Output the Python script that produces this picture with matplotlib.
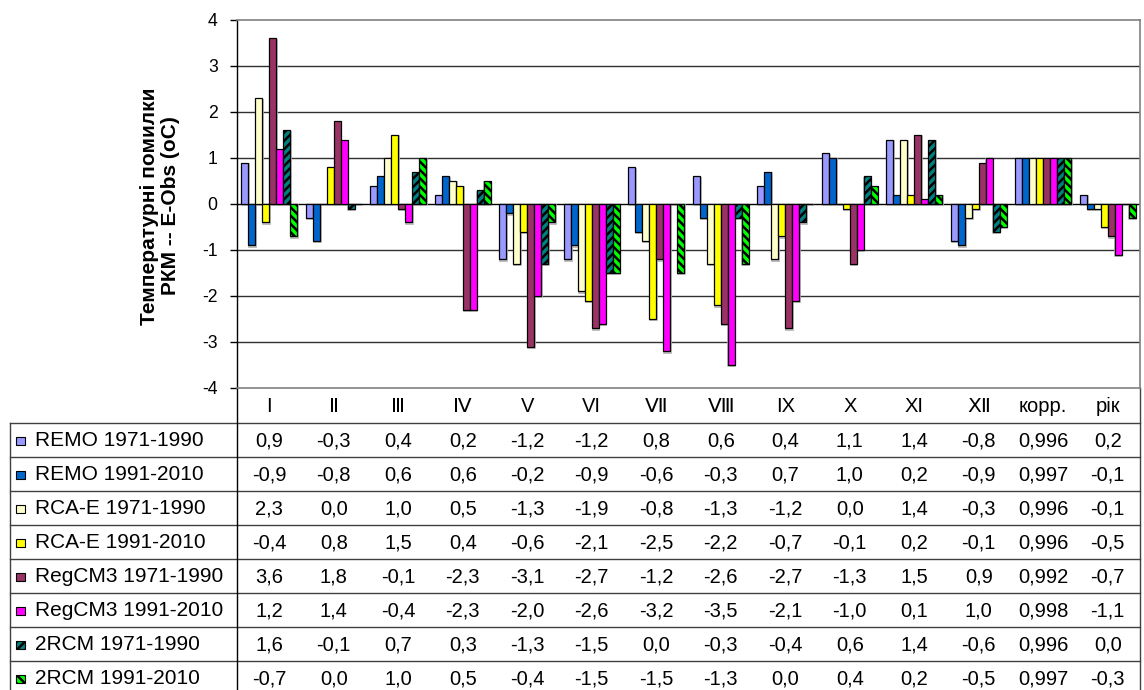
import matplotlib
matplotlib.use("Agg")
import matplotlib.pyplot as plt
from matplotlib.patches import Rectangle

plt.rcParams['font.family'] = ['Liberation Sans', 'DejaVu Sans']
plt.rcParams['hatch.linewidth'] = 1.8

# ---- дані ----
categories = ['I', 'Ⅱ', 'Ⅲ', 'Ⅳ', 'V', 'VI', 'Ⅶ', 'Ⅷ', 'IX', 'X', 'XI', 'Ⅻ', 'корр.', 'рік']

series_names = ['REMO 1971-1990', 'REMO 1991-2010',
                'RCA-E 1971-1990', 'RCA-E 1991-2010',
                'RegCM3 1971-1990', 'RegCM3 1991-2010',
                '2RCM 1971-1990', '2RCM 1991-2010']

remo_1971 = [0.9, -0.3, 0.4, 0.2, -1.2, -1.2, 0.8, 0.6, 0.4, 1.1, 1.4, -0.8, 0.996, 0.2]
remo_1991 = [-0.9, -0.8, 0.6, 0.6, -0.2, -0.9, -0.6, -0.3, 0.7, 1.0, 0.2, -0.9, 0.997, -0.1]
rca_1971 = [2.3, 0.0, 1.0, 0.5, -1.3, -1.9, -0.8, -1.3, -1.2, 0.0, 1.4, -0.3, 0.996, -0.1]
rca_1991 = [-0.4, 0.8, 1.5, 0.4, -0.6, -2.1, -2.5, -2.2, -0.7, -0.1, 0.2, -0.1, 0.996, -0.5]
regcm_1971 = [3.6, 1.8, -0.1, -2.3, -3.1, -2.7, -1.2, -2.6, -2.7, -1.3, 1.5, 0.9, 0.992, -0.7]
regcm_1991 = [1.2, 1.4, -0.4, -2.3, -2.0, -2.6, -3.2, -3.5, -2.1, -1.0, 0.1, 1.0, 0.998, -1.1]
rcm2_1971 = [1.6, -0.1, 0.7, 0.3, -1.3, -1.5, 0.0, -0.3, -0.4, 0.6, 1.4, -0.6, 0.996, 0.0]
rcm2_1991 = [-0.7, 0.0, 1.0, 0.5, -0.4, -1.5, -1.5, -1.3, 0.0, 0.4, 0.2, -0.5, 0.997, -0.3]

series = [remo_1971, remo_1991, rca_1971, rca_1991,
          regcm_1971, regcm_1991, rcm2_1971, rcm2_1991]

colors = ['#9999FF', '#0066CC', '#FFFFCC', '#FFFF00',
          '#993366', '#FF00FF', '#008080', '#00FF00']
hatches = [None, None, None, None, None, None, '////', '\\\\\\\\']

W, H = 1144, 690
fig = plt.figure(figsize=(W / 100, H / 100), dpi=100)

# межі області графіка в пікселях
px_left, px_right, px_top, px_bottom = 237, 1140, 20, 388
ax = fig.add_axes([px_left / W, 1 - px_bottom / H,
                   (px_right - px_left) / W, (px_bottom - px_top) / H])

n = len(categories)
bw = 0.108
for j, (vals, c, h) in enumerate(zip(series, colors, hatches)):
    xs = [i + 0.5 + (j - 3.5) * bw for i in range(n)]
    # легка сіра тінь під стовпчиками
    ax.bar([x + 0.012 for x in xs], vals, width=bw, bottom=-0.03, color='none',
           edgecolor='#b0b0b0', linewidth=1.2, zorder=2)
    ax.bar(xs, vals, width=bw, color=c, edgecolor='black', linewidth=0.9,
           hatch=h, zorder=3)

ax.set_xlim(0, n)
ax.set_ylim(-4, 4)
ax.set_yticks(range(-4, 5))
ax.set_yticklabels([str(v) for v in range(-4, 5)], fontsize=12.7)
ax.set_xticks([])
ax.tick_params(axis='y', direction='out', length=5, width=1, pad=9, color='black')
for v in range(-3, 4):
    ax.axhline(v, color='#303030' if v != 0 else 'black', lw=1, zorder=1)
for side in ['top', 'right', 'bottom']:
    ax.spines[side].set_color('#808080')
    ax.spines[side].set_linewidth(1.2)
ax.spines['left'].set_color('black')
ax.spines['left'].set_linewidth(1)

fig.text(160 / W, 1 - 206 / H, 'Температурні помилки\nРКМ -- E-Obs (oC)',
         rotation=90, ha='center', va='center', fontsize=15, fontweight='bold',
         linespacing=1.15)

# ---- таблиця даних під графіком ----
tb = fig.add_axes([0, 0, 1, 1], zorder=-1)
tb.set_xlim(0, W)
tb.set_ylim(H, 0)
tb.axis('off')

col_w = (px_right - px_left) / n
row_top = 423
row_h = 34
line_c = '#404040'

for i, cat in enumerate(categories):
    tb.text(px_left + (i + 0.5) * col_w, (px_bottom + row_top) / 2 + 1, cat,
            ha='center', va='center', fontsize=14.5)

for r in range(len(series) + 1):
    y = row_top + r * row_h
    tb.plot([10, px_right], [y, y], color=line_c, lw=1)
tb.plot([10, 10], [row_top, H], color=line_c, lw=1)
tb.plot([px_left, px_left], [px_bottom, H], color='black', lw=1)
tb.plot([px_right, px_right], [px_bottom, H], color=line_c, lw=1)

def fmt(v, digits):
    return f'{v:.{digits}f}'.replace('.', ',')

for r, (name, vals, c, h) in enumerate(zip(series_names, series, colors, hatches)):
    yc = row_top + r * row_h + row_h / 2 + 1
    tb.add_patch(Rectangle((16, yc - 4.5), 8.5, 8.5, facecolor=c, edgecolor='black',
                           lw=0.8, hatch=h))
    tb.text(35, yc, name, ha='left', va='center', fontsize=15)
    for i, v in enumerate(vals):
        tb.text(px_left + (i + 0.5) * col_w, yc, fmt(v, 3 if i == 12 else 1),
                ha='center', va='center', fontsize=14.5)

fig.savefig('out.png', dpi=100)
